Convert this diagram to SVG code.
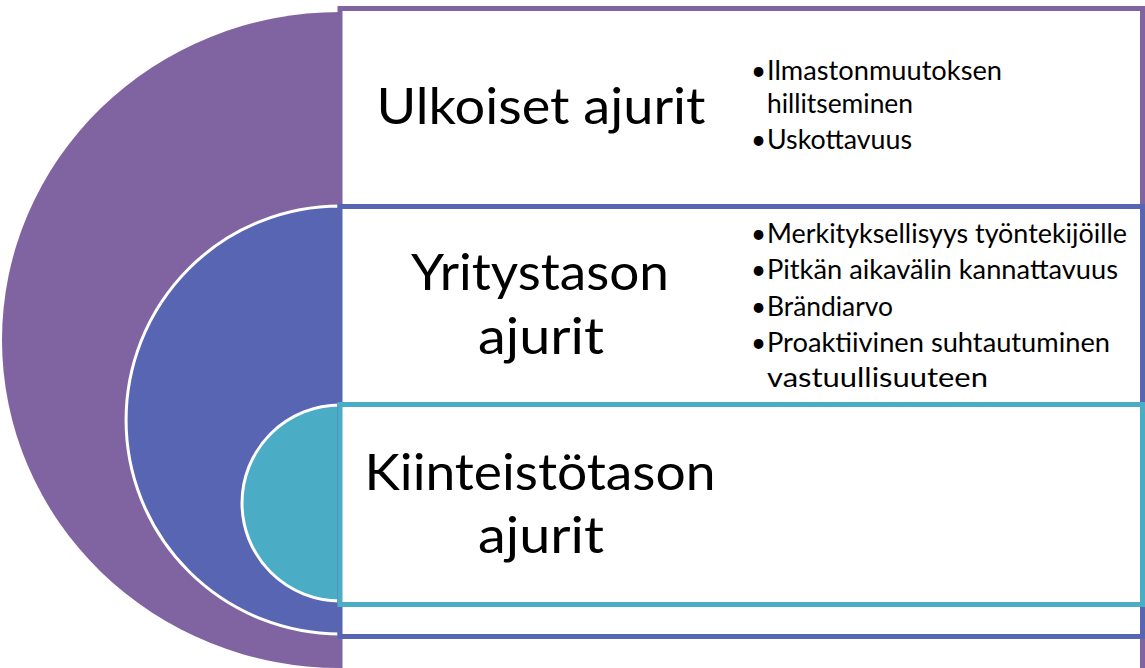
<svg xmlns="http://www.w3.org/2000/svg" width="1145" height="668" viewBox="0 0 1145 668">
<style>
.big{font-family:Lato,"Open Sans",sans-serif;font-size:50px;fill:#000;text-anchor:middle}
.sm{font-family:Lato,"Open Sans",sans-serif;font-size:26px;fill:#000}
.arc{stroke:#fff;stroke-width:3}
.box{fill:#fff;stroke-width:5}
</style>
<g id="circles">
<path id="c-purple" d="M340,12 A338,328 0 0 0 340,668 Z" fill="#8064A2"/>
<path id="c-blue" class="arc" d="M340,206 A214,214 0 0 0 340,634 Z" fill="#5765B2"/>
<path id="c-teal" class="arc" d="M340,405 A98,98 0 0 0 340,601 Z" fill="#4BACC6"/>
</g>
<g id="node-ulkoiset">
<rect class="box" x="340" y="8.5" width="802.5" height="662" stroke="#8064A2"/>
<text class="big" x="541" y="124" textLength="329" lengthAdjust="spacingAndGlyphs">Ulkoiset ajurit</text>
<text class="sm" y="80"><tspan x="751">•</tspan><tspan x="767" textLength="235" lengthAdjust="spacingAndGlyphs">Ilmastonmuutoksen</tspan></text>
<text class="sm" x="767" y="113" textLength="146" lengthAdjust="spacingAndGlyphs">hillitseminen</text>
<text class="sm" y="149"><tspan x="751">•</tspan><tspan x="767" textLength="145" lengthAdjust="spacingAndGlyphs">Uskottavuus</tspan></text>
</g>
<g id="node-yritystason">
<rect class="box" x="340" y="206.5" width="802.5" height="430" stroke="#5765B2"/>
<text class="big" x="540" y="290" textLength="258" lengthAdjust="spacingAndGlyphs">Yritystason</text>
<text class="big" x="541" y="354" textLength="126" lengthAdjust="spacingAndGlyphs">ajurit</text>
<text class="sm" y="243"><tspan x="751">•</tspan><tspan x="767" textLength="360" lengthAdjust="spacingAndGlyphs">Merkityksellisyys työntekijöille</tspan></text>
<text class="sm" y="279"><tspan x="751">•</tspan><tspan x="767" textLength="351" lengthAdjust="spacingAndGlyphs">Pitkän aikavälin kannattavuus</tspan></text>
<text class="sm" y="316"><tspan x="751">•</tspan><tspan x="767" textLength="126" lengthAdjust="spacingAndGlyphs">Brändiarvo</tspan></text>
<text class="sm" y="352"><tspan x="751">•</tspan><tspan x="767" textLength="343" lengthAdjust="spacingAndGlyphs">Proaktiivinen suhtautuminen</tspan></text>
<text class="sm" x="767" y="387" textLength="221" lengthAdjust="spacingAndGlyphs">vastuullisuuteen</text>
</g>
<g id="node-kiinteistotason">
<rect class="box" x="340" y="404.5" width="802.5" height="200" stroke="#4BACC6"/>
<text class="big" x="540" y="490" textLength="351" lengthAdjust="spacingAndGlyphs">Kiinteistötason</text>
<text class="big" x="541" y="553" textLength="126" lengthAdjust="spacingAndGlyphs">ajurit</text>
</g>
<g id="connectors"></g>
</svg>
